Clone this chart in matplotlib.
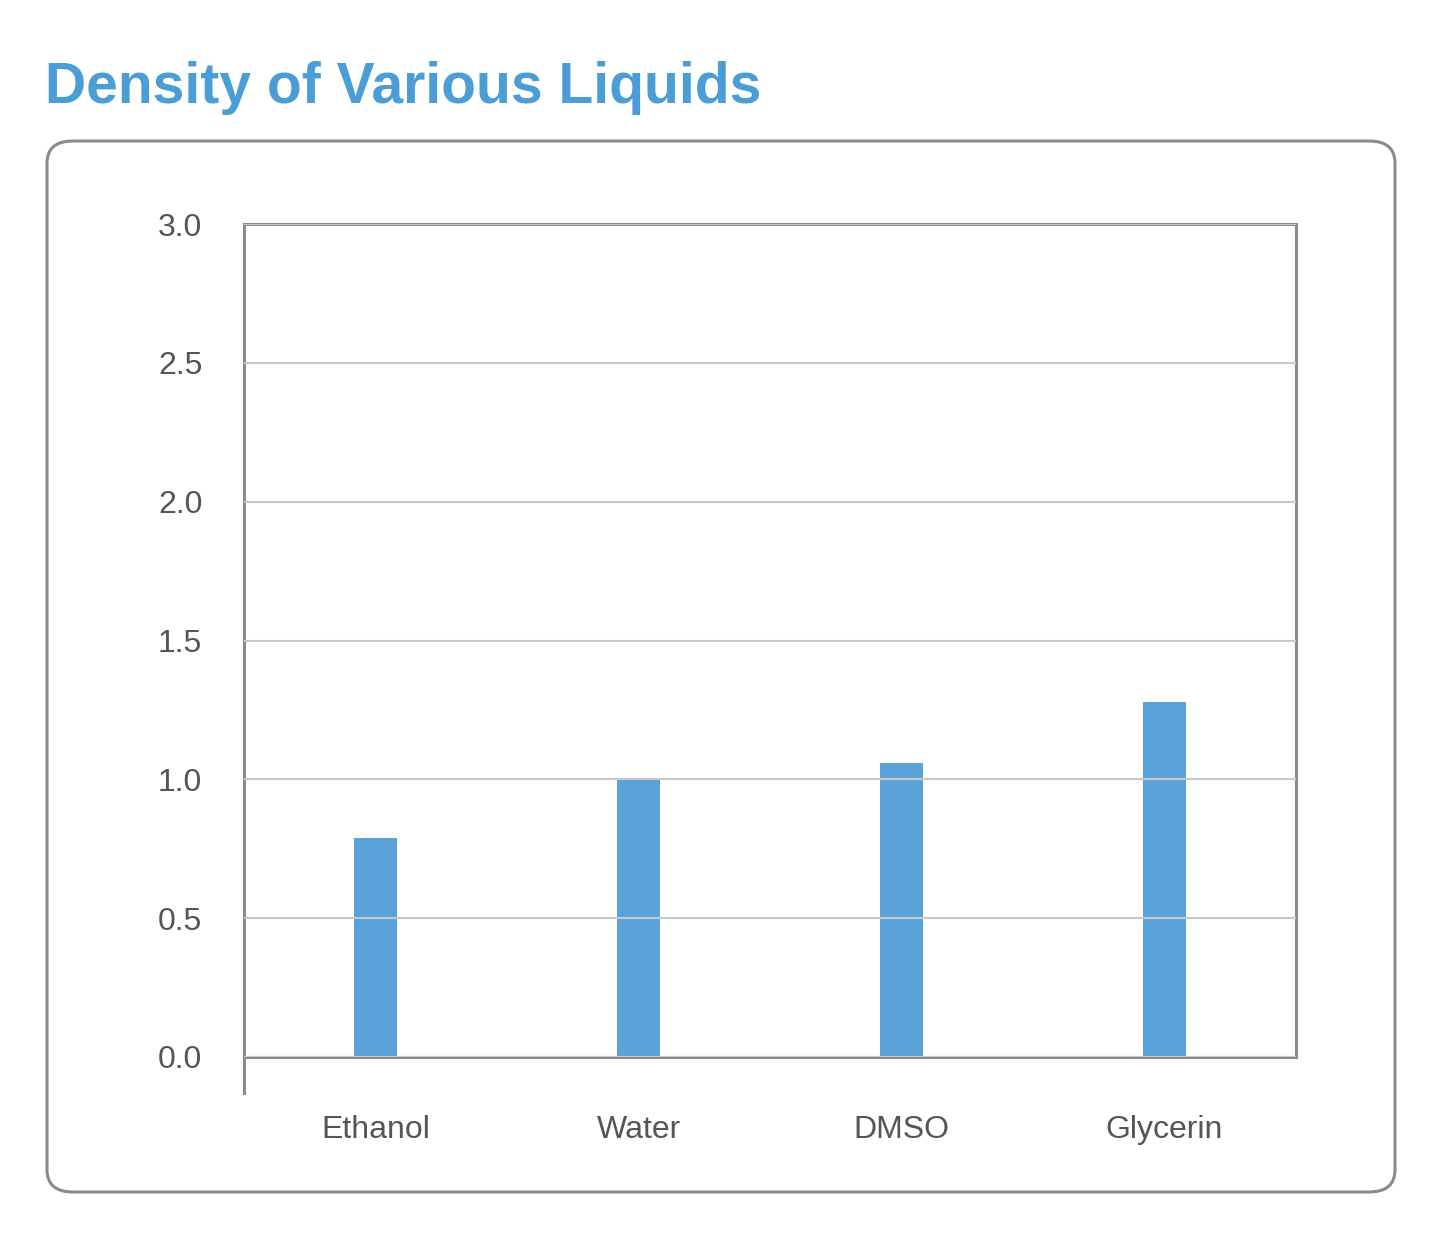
import matplotlib
matplotlib.use("Agg")
import matplotlib.pyplot as plt
from matplotlib.patches import FancyBboxPatch

categories = ["Ethanol", "Water", "DMSO", "Glycerin"]
density = [0.79, 1.00, 1.06, 1.28]
yticks = [0.0, 0.5, 1.0, 1.5, 2.0, 2.5, 3.0]

W, H = 1440, 1235
fig = plt.figure(figsize=(W/100, H/100), dpi=100)
fig.patch.set_facecolor("white")

box = FancyBboxPatch((47/W, 1-1192/H), (1395-47)/W, (1192-141)/H,
                     boxstyle="round,pad=0,rounding_size=0.018",
                     transform=fig.transFigure, facecolor="white",
                     edgecolor="#8a8a8a", linewidth=2.2, zorder=-10)
fig.patches.append(box)

fig.text(45/W, 1-88/H, "Density of Various Liquids", color="#4b9dd6",
         fontsize=41, fontweight="bold", va="center", ha="left",
         family="Liberation Sans")

ax = fig.add_axes([244/W, 1-1057/H, (1296-244)/W, (1057-224)/H])
ax.set_zorder(5)
ax.patch.set_alpha(0)
x = range(len(categories))
ax.bar(x, density, width=0.16, color="#59a3d8", zorder=2)
ax.set_xlim(-0.5, 3.5)
ax.set_ylim(0, 3.0)
ax.set_yticks(yticks)
ax.set_yticklabels([f"{v:.1f}" for v in yticks])
ax.set_xticks(list(x))
ax.set_xticklabels(categories)
ax.grid(axis="y", color="#c8c8c8", linewidth=1.5, zorder=3)
ax.set_axisbelow(False)
for s in ax.spines.values():
    s.set_color("#8a8a8a")
    s.set_linewidth(2.2)
ax.plot([-0.5, -0.5], [0, -0.13], color="#8a8a8a", lw=2.2, clip_on=False)
ax.tick_params(length=0, labelsize=23, colors="#555555", pad=30)
ax.tick_params(axis="x", pad=42)
for t in ax.get_xticklabels() + ax.get_yticklabels():
    t.set_family("Liberation Sans")
fig.savefig("out.png", dpi=100)
